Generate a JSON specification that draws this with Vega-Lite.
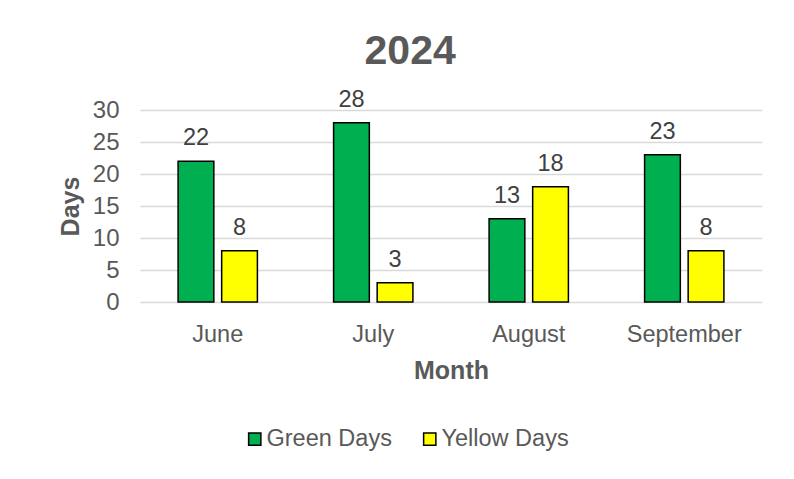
{
  "$schema": "https://vega.github.io/schema/vega-lite/v6.json",
  "width": 622,
  "height": 192,
  "padding": {"left": 58, "top": 30, "right": 32, "bottom": 20},
  "background": "white",
  "title": {"text": "2024", "fontSize": 41, "font": "Liberation Sans", "fontWeight": "bold", "color": "#595959", "offset": 15, "anchor": "middle", "frame": "bounds"},
  "config": {
    "font": "Liberation Sans",
    "view": {"stroke": null},
    "axis": {"labelFont": "Liberation Sans", "titleFont": "Liberation Sans"}
  },
  "data": {"values": [
    {"Month": "June", "Series": "Green Days", "Days": 22},
    {"Month": "June", "Series": "Yellow Days", "Days": 8},
    {"Month": "July", "Series": "Green Days", "Days": 28},
    {"Month": "July", "Series": "Yellow Days", "Days": 3},
    {"Month": "August", "Series": "Green Days", "Days": 13},
    {"Month": "August", "Series": "Yellow Days", "Days": 18},
    {"Month": "September", "Series": "Green Days", "Days": 23},
    {"Month": "September", "Series": "Yellow Days", "Days": 8}
  ]},
  "encoding": {
    "x": {
      "field": "Month", "type": "nominal",
      "sort": ["June", "July", "August", "September"],
      "scale": {"paddingInner": 0.49, "paddingOuter": 0.245},
      "axis": {"labelAngle": 0, "labelFontSize": 23.5, "labelColor": "#595959", "labelPadding": 20, "ticks": false, "domain": false, "title": "Month", "titleFontSize": 25, "titleFontWeight": "bold", "titleColor": "#595959", "titlePadding": 13}
    },
    "xOffset": {"field": "Series", "type": "nominal", "sort": ["Green Days", "Yellow Days"], "scale": {"paddingInner": 0.18, "paddingOuter": 0}},
    "y": {
      "field": "Days", "type": "quantitative",
      "scale": {"domain": [0, 30], "nice": false},
      "axis": {"values": [0, 5, 10, 15, 20, 25, 30], "labelFontSize": 24, "labelColor": "#595959", "labelPadding": 21, "ticks": false, "domain": false, "gridColor": "#D9D9D9", "gridWidth": 1.3, "title": "Days", "titleFontSize": 25, "titleFontWeight": "bold", "titleColor": "#595959", "titlePadding": 9}
    }
  },
  "layer": [
    {
      "mark": {"type": "bar", "stroke": "black", "strokeWidth": 1.5},
      "encoding": {
        "color": {
          "field": "Series", "type": "nominal",
          "scale": {"domain": ["Green Days", "Yellow Days"], "range": ["#00B050", "#FFFF00"]},
          "legend": {"orient": "none", "legendX": 103, "legendY": 317, "direction": "horizontal", "title": null, "symbolType": "square", "symbolSize": 150, "symbolStrokeColor": "black", "symbolStrokeWidth": 1.5, "labelFontSize": 23.5, "labelColor": "#595959", "labelFont": "Liberation Sans", "labelOffset": 0, "columnPadding": 26, "labelLimit": 300}
        }
      }
    },
    {
      "mark": {"type": "text", "fontSize": 23.5, "color": "#404040", "baseline": "alphabetic", "dy": -16, "font": "Liberation Sans"},
      "encoding": {"text": {"field": "Days", "type": "quantitative"}}
    }
  ]
}
